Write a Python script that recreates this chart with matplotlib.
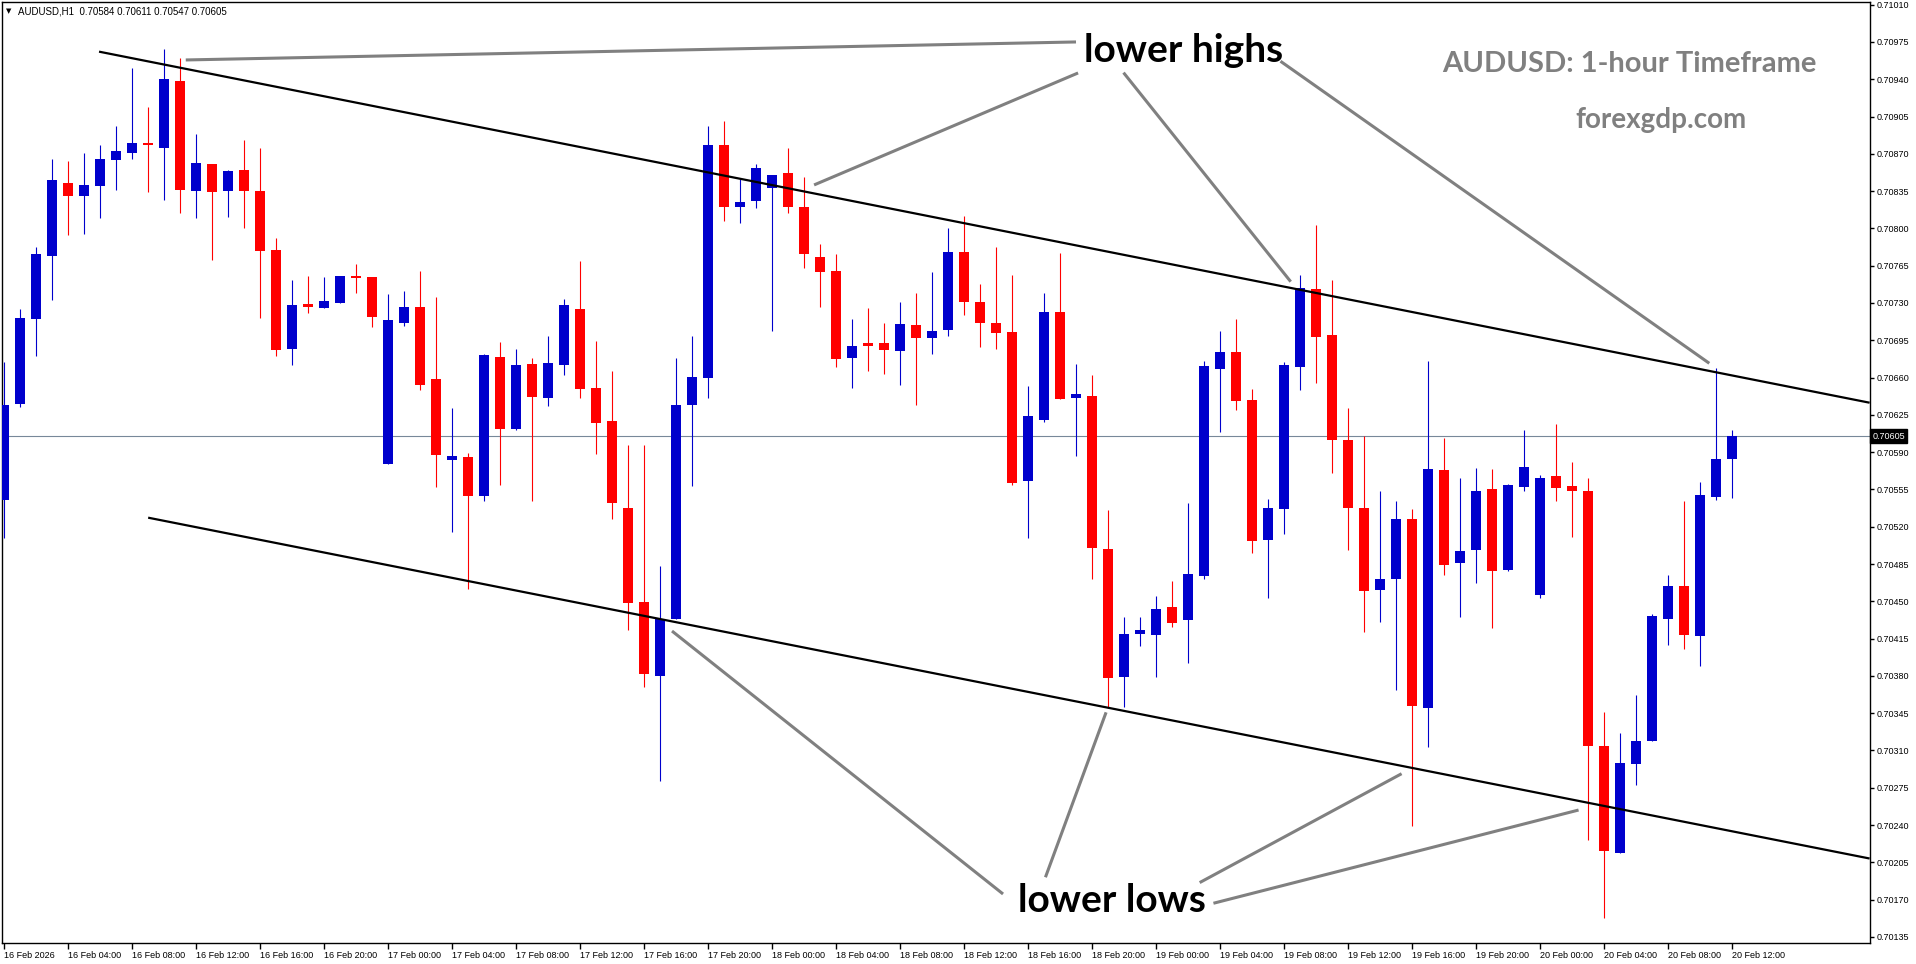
"""
AUDUSD H1 candlestick chart with a descending channel and annotations.
"""
import matplotlib
matplotlib.use("Agg")
import matplotlib.pyplot as plt
import matplotlib.transforms as mtransforms
import numpy as np

# OHLC, one candle per hour from 16 Feb 2026 00:00 to 20 Feb 2026 12:00
opens = [0.70545, 0.70635, 0.70715, 0.70774, 0.70843, 0.70830, 0.70840, 0.70864, 0.70871, 0.70880,
         0.70875, 0.70938, 0.70835, 0.70860, 0.70835, 0.70855, 0.70835, 0.70780, 0.70687, 0.70729,
         0.70725, 0.70730, 0.70755, 0.70754, 0.70579, 0.70711, 0.70726, 0.70659, 0.70583, 0.70585,
         0.70549, 0.70679, 0.70612, 0.70673, 0.70641, 0.70672, 0.70724, 0.70650, 0.70619, 0.70538,
         0.70449, 0.70380, 0.70433, 0.70634, 0.70660, 0.70878, 0.70820, 0.70826, 0.70838, 0.70852,
         0.70820, 0.70773, 0.70760, 0.70678, 0.70692, 0.70692, 0.70685, 0.70709, 0.70697, 0.70705,
         0.70778, 0.70731, 0.70711, 0.70703, 0.70563, 0.70620, 0.70722, 0.70641, 0.70643, 0.70499,
         0.70379, 0.70419, 0.70418, 0.70445, 0.70432, 0.70474, 0.70668, 0.70684, 0.70639, 0.70508,
         0.70537, 0.70670, 0.70743, 0.70700, 0.70601, 0.70538, 0.70461, 0.70471, 0.70527, 0.70350,
         0.70573, 0.70486, 0.70498, 0.70555, 0.70479, 0.70557, 0.70456, 0.70568, 0.70558, 0.70554,
         0.70314, 0.70214, 0.70297, 0.70319, 0.70433, 0.70464, 0.70417, 0.70548, 0.70584]
highs = [0.70675, 0.70724, 0.70783, 0.70865, 0.70863, 0.70871, 0.70878, 0.70896, 0.70951, 0.70914,
         0.70968, 0.70960, 0.70889, 0.70860, 0.70855, 0.70883, 0.70875, 0.70791, 0.70752, 0.70755,
         0.70754, 0.70755, 0.70767, 0.70754, 0.70738, 0.70741, 0.70760, 0.70736, 0.70631, 0.70589,
         0.70682, 0.70693, 0.70687, 0.70678, 0.70699, 0.70734, 0.70769, 0.70694, 0.70666, 0.70597,
         0.70597, 0.70483, 0.70678, 0.70699, 0.70896, 0.70901, 0.70846, 0.70860, 0.70850, 0.70875,
         0.70848, 0.70785, 0.70776, 0.70715, 0.70725, 0.70711, 0.70731, 0.70739, 0.70759, 0.70800,
         0.70812, 0.70748, 0.70783, 0.70756, 0.70652, 0.70739, 0.70777, 0.70673, 0.70662, 0.70536,
         0.70435, 0.70435, 0.70455, 0.70469, 0.70542, 0.70676, 0.70704, 0.70715, 0.70649, 0.70546,
         0.70675, 0.70756, 0.70803, 0.70752, 0.70631, 0.70605, 0.70554, 0.70544, 0.70537, 0.70676,
         0.70603, 0.70566, 0.70575, 0.70574, 0.70560, 0.70611, 0.70569, 0.70616, 0.70581, 0.70566,
         0.70346, 0.70326, 0.70362, 0.70438, 0.70475, 0.70544, 0.70562, 0.70669, 0.70611]
lows = [0.70509, 0.70632, 0.70680, 0.70733, 0.70794, 0.70795, 0.70810, 0.70836, 0.70865, 0.70834,
        0.70827, 0.70814, 0.70810, 0.70770, 0.70811, 0.70800, 0.70716, 0.70680, 0.70672, 0.70721,
        0.70725, 0.70730, 0.70739, 0.70707, 0.70579, 0.70708, 0.70648, 0.70557, 0.70515, 0.70462,
        0.70544, 0.70559, 0.70611, 0.70544, 0.70633, 0.70662, 0.70641, 0.70588, 0.70527, 0.70423,
        0.70370, 0.70281, 0.70433, 0.70558, 0.70641, 0.70807, 0.70805, 0.70819, 0.70704, 0.70814,
        0.70763, 0.70726, 0.70670, 0.70650, 0.70666, 0.70663, 0.70653, 0.70634, 0.70682, 0.70699,
        0.70719, 0.70689, 0.70687, 0.70559, 0.70509, 0.70618, 0.70640, 0.70586, 0.70471, 0.70350,
        0.70351, 0.70408, 0.70379, 0.70426, 0.70392, 0.70471, 0.70609, 0.70630, 0.70495, 0.70453,
        0.70513, 0.70648, 0.70655, 0.70570, 0.70498, 0.70421, 0.70431, 0.70367, 0.70239, 0.70313,
        0.70475, 0.70435, 0.70467, 0.70425, 0.70478, 0.70554, 0.70453, 0.70544, 0.70510, 0.70226,
        0.70153, 0.70214, 0.70278, 0.70319, 0.70409, 0.70405, 0.70389, 0.70545, 0.70547]
closes = [0.70634, 0.70716, 0.70776, 0.70845, 0.70830, 0.70841, 0.70865, 0.70873, 0.70880, 0.70878,
          0.70940, 0.70836, 0.70861, 0.70834, 0.70854, 0.70835, 0.70779, 0.70686, 0.70728, 0.70726,
          0.70732, 0.70755, 0.70753, 0.70717, 0.70714, 0.70726, 0.70653, 0.70587, 0.70586, 0.70549,
          0.70681, 0.70612, 0.70672, 0.70642, 0.70674, 0.70728, 0.70649, 0.70617, 0.70542, 0.70448,
          0.70382, 0.70433, 0.70634, 0.70661, 0.70878, 0.70820, 0.70825, 0.70857, 0.70850, 0.70820,
          0.70776, 0.70759, 0.70677, 0.70690, 0.70690, 0.70686, 0.70710, 0.70697, 0.70704, 0.70778,
          0.70731, 0.70711, 0.70702, 0.70561, 0.70624, 0.70722, 0.70640, 0.70645, 0.70500, 0.70378,
          0.70419, 0.70423, 0.70443, 0.70430, 0.70476, 0.70671, 0.70684, 0.70638, 0.70507, 0.70538,
          0.70672, 0.70744, 0.70698, 0.70601, 0.70538, 0.70460, 0.70471, 0.70527, 0.70352, 0.70574,
          0.70484, 0.70497, 0.70554, 0.70478, 0.70559, 0.70576, 0.70566, 0.70556, 0.70554, 0.70314,
          0.70216, 0.70298, 0.70319, 0.70436, 0.70464, 0.70418, 0.70550, 0.70584, 0.70605]

time_labels = ["16 Feb 2026", "16 Feb 04:00", "16 Feb 08:00", "16 Feb 12:00", "16 Feb 16:00",
               "16 Feb 20:00", "17 Feb 00:00", "17 Feb 04:00", "17 Feb 08:00", "17 Feb 12:00",
               "17 Feb 16:00", "17 Feb 20:00", "18 Feb 00:00", "18 Feb 04:00", "18 Feb 08:00",
               "18 Feb 12:00", "18 Feb 16:00", "18 Feb 20:00", "19 Feb 00:00", "19 Feb 04:00",
               "19 Feb 08:00", "19 Feb 12:00", "19 Feb 16:00", "19 Feb 20:00", "20 Feb 00:00",
               "20 Feb 04:00", "20 Feb 08:00", "20 Feb 12:00"]
price_ticks = [0.70135, 0.70170, 0.70205, 0.70240, 0.70275, 0.70310, 0.70345, 0.70380, 0.70415,
               0.70450, 0.70485, 0.70520, 0.70555, 0.70590, 0.70625, 0.70660, 0.70695, 0.70730,
               0.70765, 0.70800, 0.70835, 0.70870, 0.70905, 0.70940, 0.70975, 0.71010]
last_price = 0.70605

# channel lines: (candle index, price) anchors
resistance = [(5.94, 0.709659), (116.6, 0.706364)]
support = [(9.01, 0.705285), (116.6, 0.702086)]

# annotation pointer segments: ((i0, p0), (i1, p1))
high_pointers = [((11.36, 0.709581), (67.0, 0.709750)),
                 ((50.63, 0.708408), (67.13, 0.709459)),
                 ((69.97, 0.709462), (80.42, 0.707500)),
                 ((79.78, 0.709569), (106.58, 0.706734))]
low_pointers = [((41.75, 0.704221), (62.44, 0.701753)),
                ((65.09, 0.701910), (68.88, 0.703458)),
                ((74.73, 0.701860), (87.35, 0.702882)),
                ((75.59, 0.701666), (98.41, 0.702541))]

BLUE = "#0000cc"
RED = "#ff0000"
GREY = "#808080"

o = np.array(opens)
h = np.array(highs)
l = np.array(lows)
c = np.array(closes)
x = np.arange(len(o))
colors = [BLUE if cc >= oo else RED for oo, cc in zip(o, c)]

W, H = 1916, 964
fig = plt.figure(figsize=(W / 100, H / 100), dpi=100)
fig.patch.set_facecolor("white")
ax = fig.add_axes([2 / W, 21 / H, 1868 / W, 941 / H])
ax.set_xlim(-0.125, 116.625)
ax.set_ylim(0.701293, 0.710125)

ax.vlines(x, l, h, colors=colors, linewidth=0.8, zorder=2)
ax.bar(x, np.maximum(np.abs(c - o), 0.000012), bottom=np.minimum(o, c), width=0.66,
       color=colors, linewidth=0, zorder=3)

ax.axhline(last_price, color="#778899", linewidth=0.8, zorder=1)

for line in (resistance, support):
    xs, ys = zip(*line)
    ax.plot(xs, ys, color="black", linewidth=1.6, zorder=4, solid_capstyle="butt")

for (p0, p1) in high_pointers + low_pointers:
    ax.plot([p0[0], p1[0]], [p0[1], p1[1]], color=GREY, linewidth=2.2, zorder=5,
            solid_capstyle="butt")

ax.text(67.5, 0.709562, "lower highs", fontsize=28, fontweight="bold", family="Lato",
        color="black", ha="left", va="baseline", zorder=6)
ax.text(63.4, 0.701587, "lower lows", fontsize=28, fontweight="bold", family="Lato",
        color="black", ha="left", va="baseline", zorder=6)
ax.text(101.6, 0.709471, "AUDUSD: 1-hour Timeframe", fontsize=21, fontweight="bold",
        family="Lato", color=GREY, ha="center", va="baseline", zorder=6)
ax.text(103.56, 0.708940, "forexgdp.com", fontsize=20, fontweight="bold",
        family="Lato", color=GREY, ha="center", va="baseline", zorder=6)

# axes styling
for s in ax.spines.values():
    s.set_color("black")
    s.set_linewidth(1)
ax.yaxis.tick_right()
ax.set_yticks(price_ticks)
ax.set_yticklabels([f"{p:.5f}" for p in price_ticks])
ax.set_xticks(x[::4])
ax.set_xticklabels(time_labels)
ax.tick_params(axis="y", direction="out", length=3, width=1, pad=2, labelsize=6.5,
               colors="black")
ax.tick_params(axis="x", direction="out", length=4, width=1, pad=2, labelsize=6.5,
               colors="black")
for lbl in ax.get_xticklabels() + ax.get_yticklabels():
    lbl.set_family("Liberation Sans")
for lbl in ax.get_xticklabels():
    lbl.set_ha("left")

trans = mtransforms.blended_transform_factory(ax.transAxes, ax.transData)
ax.text(1.0013, last_price, f"{last_price:.5f}", transform=trans, fontsize=6.5,
        family="Liberation Sans", color="white", ha="left", va="center", zorder=10,
        bbox=dict(boxstyle="square,pad=0.25", fc="black", ec="black"), clip_on=False)

fig.text(6 / W, 1 - 11 / H, "\u25bc", fontsize=5, family="DejaVu Sans", va="center", ha="left")
fig.text(18 / W, 1 - 11 / H,
         f"AUDUSD,H1  {opens[-1]:.5f} {highs[-1]:.5f} {lows[-1]:.5f} {closes[-1]:.5f}",
         fontsize=7, family="Liberation Sans", va="center", ha="left")

fig.savefig("out.png", dpi=100)
plt.close(fig)
